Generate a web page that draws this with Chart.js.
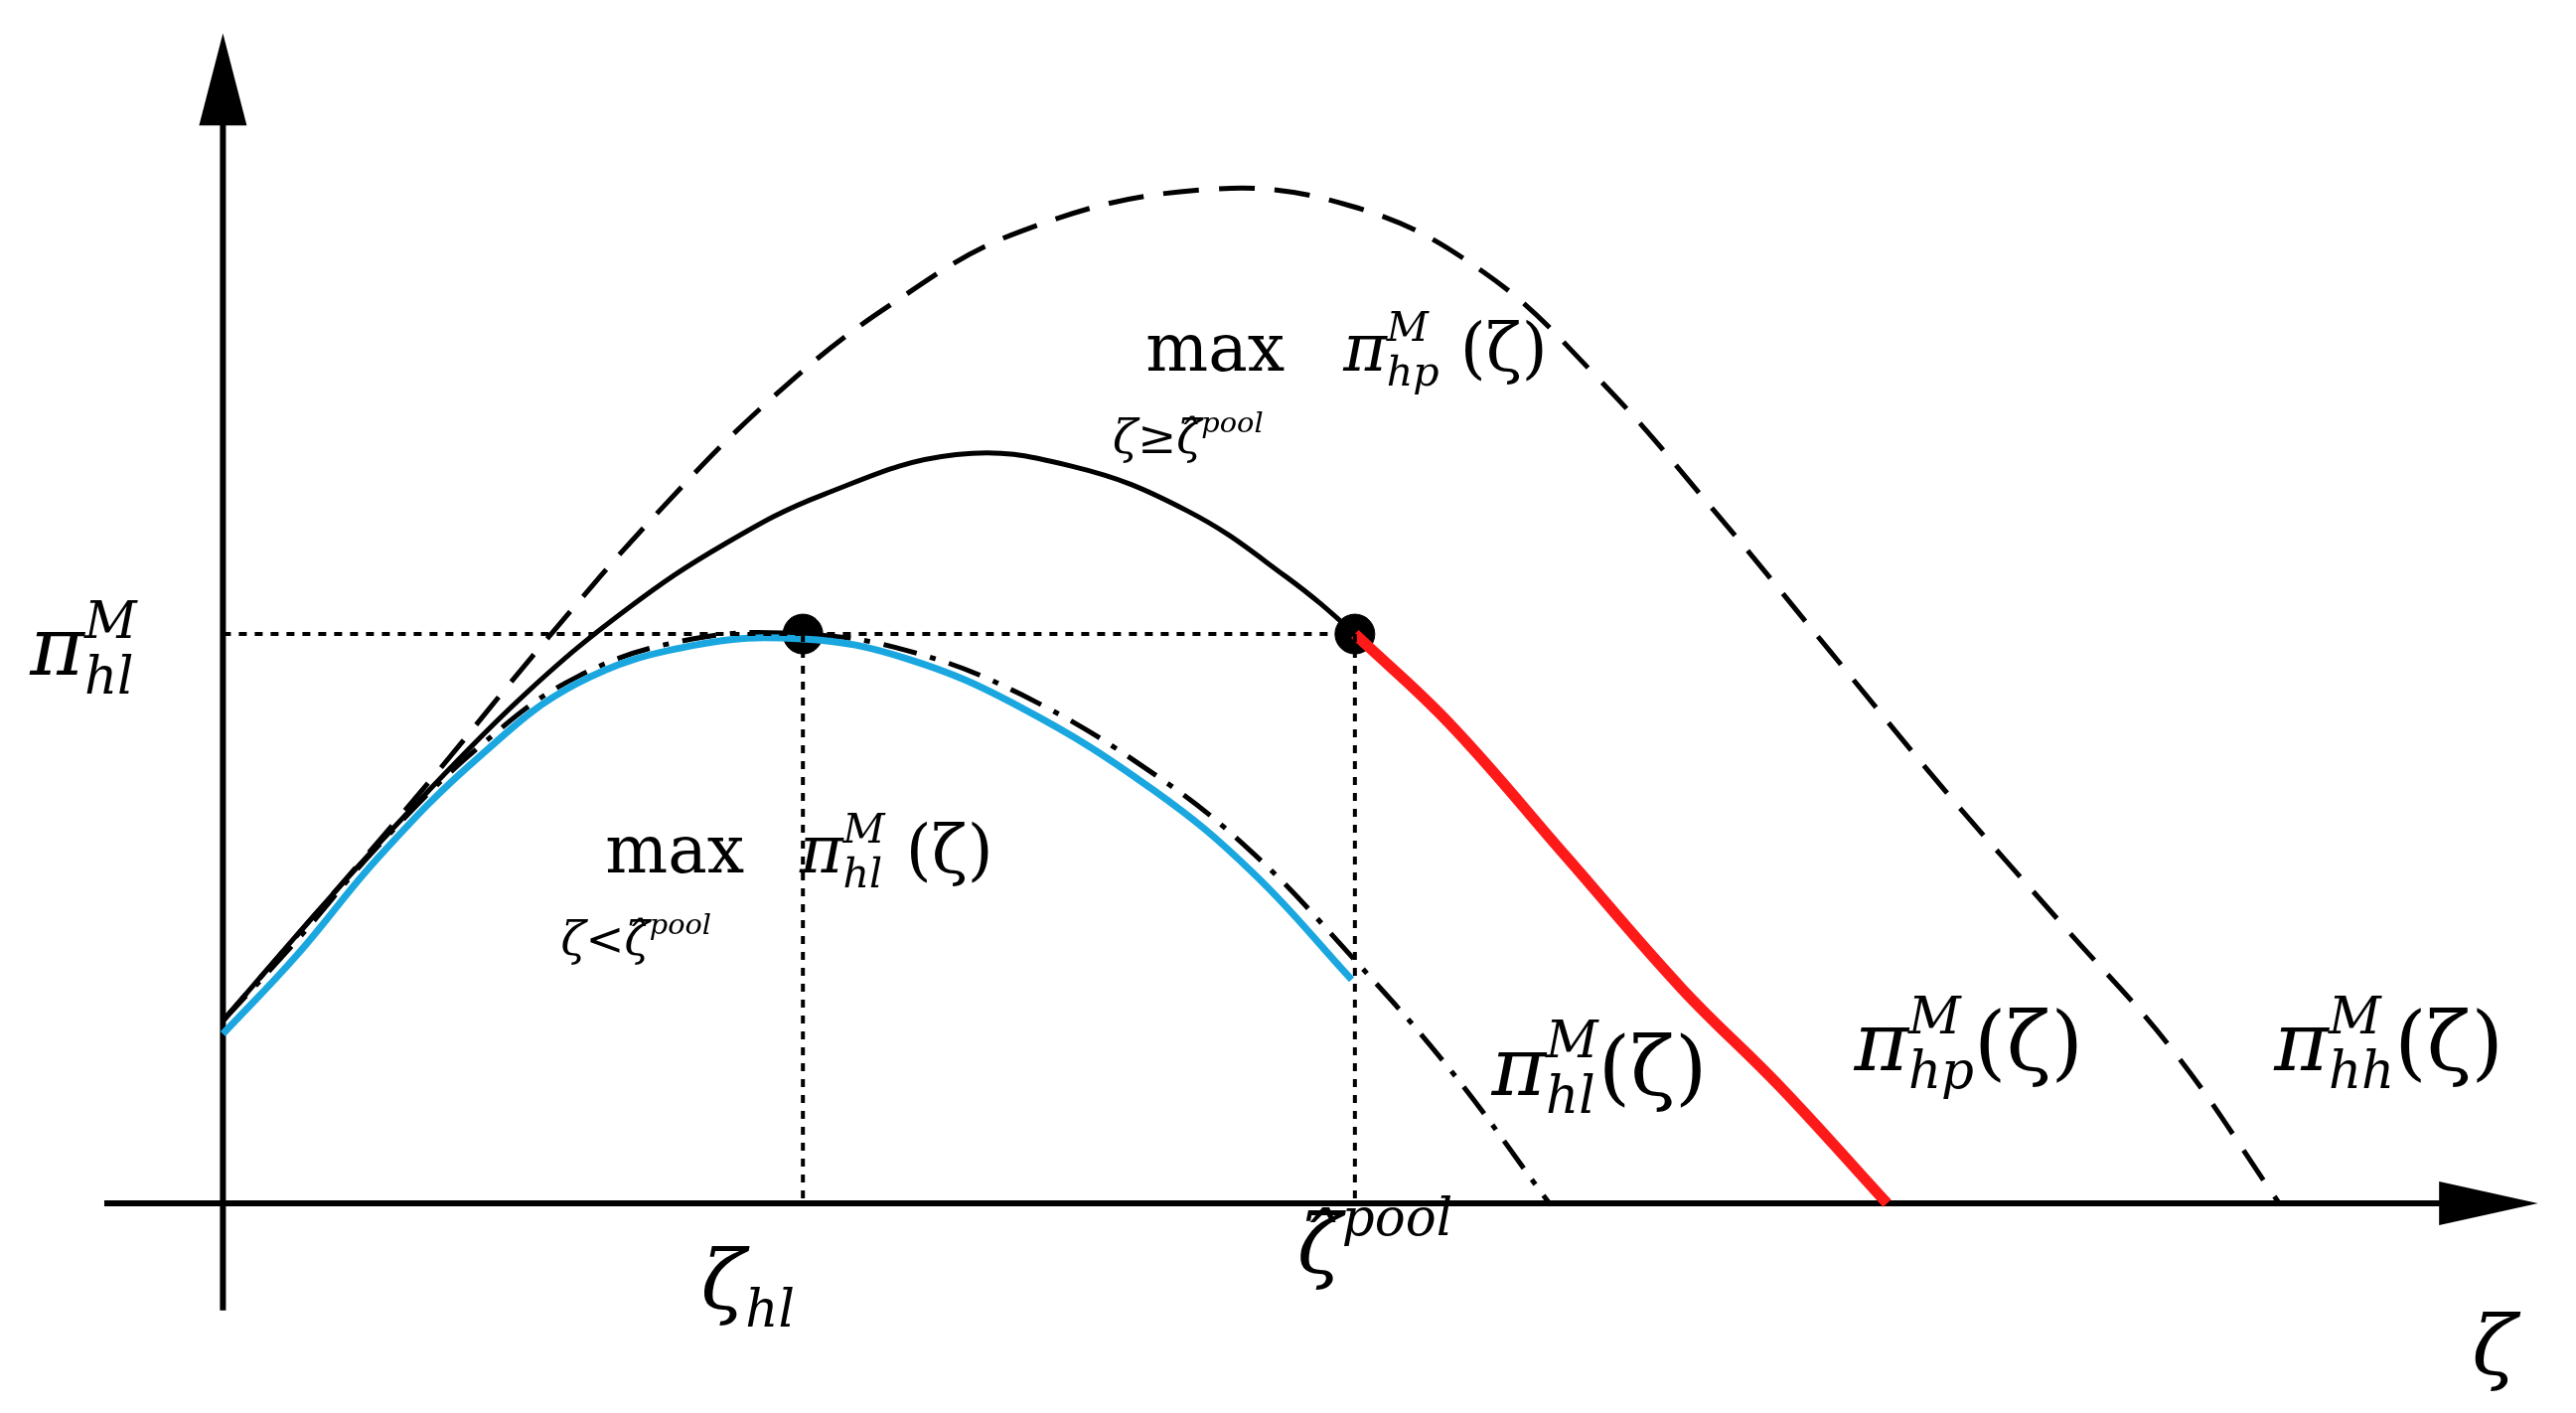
<!DOCTYPE html>
<html>
<head>
<meta charset="utf-8">
<script src="https://cdn.jsdelivr.net/npm/chart.js@4"></script>
<style>
  html, body { margin: 0; padding: 0; background: #fff; }
  #wrap { width: 2593px; height: 1422px; }
</style>
</head>
<body>
<div id="wrap"><canvas id="c"></canvas></div>
<script>
// coordinates are in "zeta" units (origin at axes crossing)
const hhCurve = [[0,111],[65,186],[125,256],[195,341],[265,421],[335,491],[405,546],[485,591],[595,616],[685,606],[765,566],[835,501],[905,421],[975,336],[1045,251],[1115,171],[1185,91],[1248,0]];
const hpCurve = [[0,111],[65,186],[125,251],[185,311],[245,361],[305,401],[365,431],[445,455],[515,448],[585,421],[645,381],[687,346],[745,291],[815,211],[885,131],[945,71],[1010,0]];
const hpRed = [[687,346],[745,291],[815,211],[885,131],[945,71],[1010,0]];
const hlBlue = [[0,103],[45,151],[95,211],[155,271],[215,316],[285,339],[352,343],[415,331],[485,301],[565,251],[625,201],[685,136]];
const hlDashDot = [[0,111],[45,160],[95,218],[155,277],[215,320],[285,343],[352,346],[415,336],[485,309],[565,261],[625,213],[685,150],[745,81],[805,0]];
const zetaHl = 352, zetaPool = 687, piHl = 346;
const dots = [[zetaHl, piHl], [zetaPool, piHl]];

const pts = a => a.map(p => ({x: p[0], y: p[1]}));
const S = 1.66;

function line(data, color, width, dash, tension) {
  return { data: pts(data), borderColor: color, borderWidth: width, borderDash: dash || [],
    pointRadius: 0, tension: tension === undefined ? 0.4 : tension, fill: false, showLine: true };
}

const datasets = [
  line([[0, piHl], [zetaPool, piHl]], '#000', 4, [8, 8], 0),
  line([[zetaHl, piHl], [zetaHl, 0]], '#000', 4, [8, 8], 0),
  line([[zetaPool, piHl], [zetaPool, 0]], '#000', 4, [8, 8], 0),
  line(hhCurve, '#000', 5, [36, 20]),
  line(hlBlue, '#1aa7e0', 7),
  line(hlDashDot, '#000', 5, [34, 14, 6, 14]),
  line(hpRed, '#ff1a1a', 11),
  line(hpCurve, '#000', 5),
  { data: pts(dots), pointRadius: 20, pointBackgroundColor: '#000', pointBorderColor: '#000', showLine: false },
  // axes
  line([[-72, 0], [1370, 0]], '#000', 6, [], 0),
  line([[0, -65], [0, 660]], '#000', 6, [], 0)
];

// math-ish label: parts = [text, kind] with kind 'b' italic base, 'r' roman base, 'u' sup, 'd' sub
function mathText(ctx, chart, x, y, size, parts) {
  const sx = chart.scales.x.getPixelForValue(x);
  const sy = chart.scales.y.getPixelForValue(y);
  let cx = sx, supEnd = 0;
  ctx.fillStyle = '#000';
  ctx.textBaseline = 'alphabetic';
  for (const [t, k] of parts) {
    if (k === 'u' || k === 'd') {
      ctx.font = 'italic ' + (size * 0.62) + 'px "DejaVu Serif"';
      const dy = k === 'u' ? -size * 0.45 : size * 0.22;
      ctx.fillText(t, cx, sy + dy);
      const w = ctx.measureText(t).width;
      if (k === 'u') supEnd = cx + w;
      else cx = Math.max(cx + w, supEnd);
    } else {
      if (supEnd > cx) cx = supEnd;
      supEnd = 0;
      ctx.font = (k === 'r' ? '' : 'italic ') + size + 'px "DejaVu Serif"';
      ctx.fillText(t, cx, sy);
      cx += ctx.measureText(t).width;
    }
  }
}

const decor = {
  id: 'decor',
  afterDatasetsDraw(chart) {
    const ctx = chart.ctx;
    const X = chart.scales.x, Y = chart.scales.y;
    ctx.save();
    ctx.fillStyle = '#000';
    // arrowheads
    const ox = X.getPixelForValue(0), oy = Y.getPixelForValue(0);
    const ty = Y.getPixelForValue(711), by = Y.getPixelForValue(655);
    ctx.beginPath(); ctx.moveTo(ox, ty); ctx.lineTo(ox - 24, by); ctx.lineTo(ox + 24, by); ctx.fill();
    const rx = X.getPixelForValue(1405), lx = X.getPixelForValue(1345);
    ctx.beginPath(); ctx.moveTo(rx, oy); ctx.lineTo(lx, oy - 22); ctx.lineTo(lx, oy + 22); ctx.fill();

    const big = 50 * S;
    mathText(ctx, chart, -117, 321, big, [['π', 'b'], ['M', 'u'], ['hl', 'd']]);
    mathText(ctx, chart, 290, -64, big, [['ζ', 'b'], ['hl', 'd']]);
    mathText(ctx, chart, 652, -42, big, [['ζ̂', 'b'], ['pool', 'u']]);
    mathText(ctx, chart, 1365, -104, big, [['ζ', 'b']]);
    mathText(ctx, chart, 770, 66, big, [['π', 'b'], ['M', 'u'], ['hl', 'd'], ['(ζ)', 'r']]);
    mathText(ctx, chart, 990, 81, big, [['π', 'b'], ['M', 'u'], ['hp', 'd'], ['(ζ)', 'r']]);
    mathText(ctx, chart, 1245, 81, big, [['π', 'b'], ['M', 'u'], ['hh', 'd'], ['(ζ)', 'r']]);

    const mid = 40 * S;
    mathText(ctx, chart, 560, 506, mid, [['max', 'r']]);
    mathText(ctx, chart, 680, 506, mid, [['π', 'b'], ['M', 'u'], ['hp', 'd'], [' (ζ)', 'r']]);
    mathText(ctx, chart, 540, 456, 28 * S, [['ζ≥ζ̂', 'b'], ['pool', 'u']]);
    mathText(ctx, chart, 232, 201, mid, [['max', 'r']]);
    mathText(ctx, chart, 350, 201, mid, [['π', 'b'], ['M', 'u'], ['hl', 'd'], [' (ζ)', 'r']]);
    mathText(ctx, chart, 205, 151, 28 * S, [['ζ<ζ̂', 'b'], ['pool', 'u']]);
    ctx.restore();
  }
};

new Chart(document.getElementById('c'), {
  type: 'scatter',
  data: { datasets },
  options: {
    responsive: true, maintainAspectRatio: false, animation: false,
    layout: { padding: { left: 100, right: 30, top: 27, bottom: 95 } },
    plugins: { legend: { display: false }, tooltip: { enabled: false } },
    scales: {
      x: { type: 'linear', min: -75, max: 1410, display: false },
      y: { type: 'linear', min: -70, max: 715, display: false }
    }
  },
  plugins: [decor]
});
</script>
</body>
</html>
